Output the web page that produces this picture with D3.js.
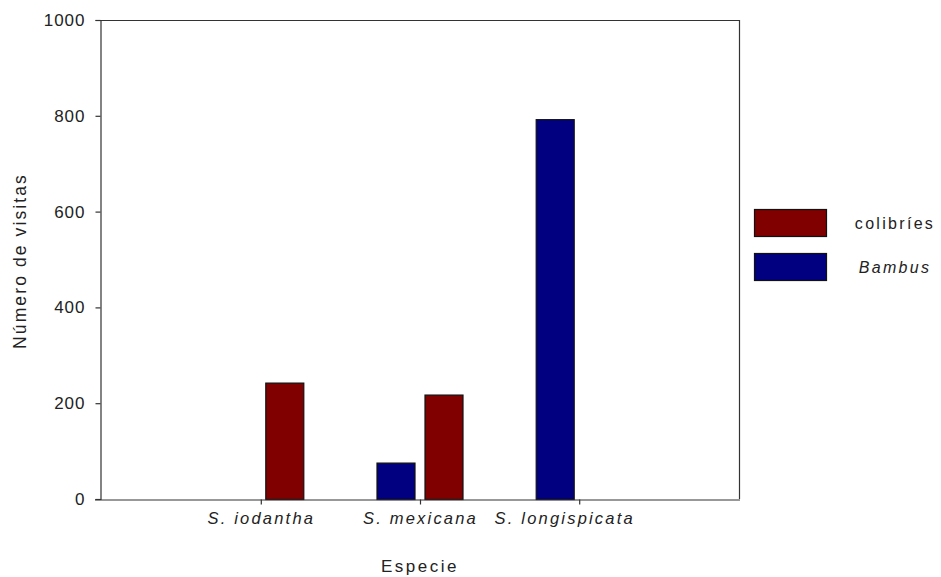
<!DOCTYPE html>
<html><head><meta charset="utf-8">
<script src="https://cdn.jsdelivr.net/npm/d3@7"></script>
<style>
body{margin:0;background:#fff;}
svg{display:block;font-family:Arial,"Liberation Sans",sans-serif;}
</style></head>
<body><svg id="c" width="941" height="577"></svg>
<script>
const categories = ["S. iodantha", "S. mexicana", "S. longispicata"];
const seriesNames = ["Bambus", "colibríes"];
const bambus = [0, 76, 793];
const colibries = [243, 218, 0];
const yTicks = [0, 200, 400, 600, 800, 1000];
const legendOrder = ["colibríes", "Bambus"];
const colors = {"colibríes": "#800000", "Bambus": "#000080"};

const svg = d3.select("#c");
const L = 100, R = 739, T = 20, B = 499;
const x = d3.scalePoint().domain(categories).range([L, R + 1]).padding(1.01);
const xi = d3.scaleBand().domain(seriesNames).range([-43.5, 43.5]).paddingInner(9/48);
const y = d3.scaleLinear().domain([0, 1000]).range([B, T]);

// frame top and right
svg.append("line").attr("x1", L).attr("x2", R).attr("y1", T + 0.5).attr("y2", T + 0.5).attr("stroke", "#333").attr("stroke-width", 1.2);
svg.append("line").attr("x1", R + 0.5).attr("x2", R + 0.5).attr("y1", T).attr("y2", B).attr("stroke", "#333").attr("stroke-width", 1.2);

const data = [];
categories.forEach((c, i) => {
  data.push({cat: c, s: "Bambus", v: bambus[i]});
  data.push({cat: c, s: "colibríes", v: colibries[i]});
});

svg.append("g").selectAll("rect").data(data.filter(d => d.v > 0)).join("rect")
  .attr("x", d => x(d.cat) + xi(d.s) + 0.5)
  .attr("y", d => y(d.v) + 0.5)
  .attr("width", xi.bandwidth() - 1)
  .attr("height", d => B - y(d.v))
  .attr("fill", d => colors[d.s])
  .attr("stroke", "#111").attr("stroke-width", 1.2);

// Y axis
const yAxis = d3.axisLeft(y).tickValues(yTicks).tickSize(5).tickPadding(10).tickFormat(d3.format("d"));
const gy = svg.append("g").attr("transform", `translate(${L + 0.5},0)`).call(yAxis);
gy.select(".domain").attr("stroke", "#333").attr("stroke-width", 1.2);
gy.selectAll(".tick line").attr("stroke", "#333").attr("stroke-width", 1.2);
gy.selectAll("text").attr("font-size", 17).attr("letter-spacing", "1px").attr("fill", "#222")
  .attr("font-family", "Arial, 'Liberation Sans', sans-serif");

// X axis
const xAxis = d3.axisBottom(x).tickSize(5).tickPadding(8).tickSizeOuter(0);
const gx = svg.append("g").attr("transform", `translate(0,${B + 0.5})`).call(xAxis);
gx.select(".domain").attr("d", `M${L - 5},0.5H${R + 1}`).attr("stroke", "#333").attr("stroke-width", 1.2);
gx.selectAll(".tick line").attr("stroke", "#333").attr("stroke-width", 1.2);
gx.selectAll("text").attr("font-size", 16.5).attr("font-style", "italic").attr("fill", "#222")
  .attr("letter-spacing", "2.2px").attr("font-family", "Arial, 'Liberation Sans', sans-serif")
  .attr("dx", (d, i) => i === categories.length - 1 ? -15 : 0);

// axis titles
svg.append("text").attr("x", 420).attr("y", 572).attr("text-anchor", "middle")
  .attr("font-size", 17).attr("letter-spacing", "2.5px").attr("fill", "#222").text("Especie");
svg.append("text").attr("transform", "translate(26,261) rotate(-90)").attr("text-anchor", "middle")
  .attr("font-size", 17.5).attr("letter-spacing", "2.1px").attr("fill", "#222").text("Número de visitas");

// legend
const lg = svg.append("g");
legendOrder.forEach((s, i) => {
  const yy = 209 + i * 44;
  lg.append("rect").attr("x", 754.5).attr("y", yy + 0.5).attr("width", 72).attr("height", 27)
    .attr("fill", colors[s]).attr("stroke", "#111").attr("stroke-width", 1.2);
  lg.append("text").attr("x", 895).attr("y", yy + 20).attr("text-anchor", "middle")
    .attr("font-size", 16).attr("letter-spacing", "2.3px").attr("fill", "#222")
    .attr("font-style", s === "Bambus" ? "italic" : "normal").text(s);
});
</script></body></html>
